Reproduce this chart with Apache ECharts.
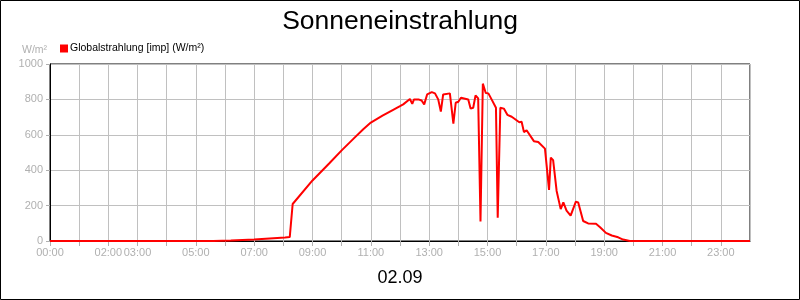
<!DOCTYPE html>
<html>
<head>
<meta charset="utf-8">
<script src="https://cdn.jsdelivr.net/npm/echarts@6/dist/echarts.min.js"></script>
<style>html,body{margin:0;padding:0;background:#fff}#c{width:800px;height:300px}</style>
</head>
<body>
<div id="c"></div>
<script>
// Time of day (hours) and Globalstrahlung values (W/m²)
const hours = [0, 5.6, 6.2, 7.0, 8.06, 8.22, 8.32, 9.0, 9.57, 10.0, 10.4, 10.74, 11.0, 11.4, 11.75, 12.0, 12.11, 12.34, 12.42, 12.48, 12.63, 12.74, 12.83, 12.93, 13.09, 13.2, 13.31, 13.4, 13.48, 13.71, 13.77, 13.83, 13.91, 14.0, 14.09, 14.34, 14.42, 14.51, 14.59, 14.68, 14.76, 14.84, 14.94, 15.03, 15.14, 15.29, 15.35, 15.44, 15.56, 15.68, 15.83, 16.09, 16.17, 16.25, 16.34, 16.59, 16.74, 16.97, 17.11, 17.17, 17.25, 17.37, 17.51, 17.6, 17.71, 17.85, 18.03, 18.11, 18.28, 18.45, 18.72, 18.86, 19.06, 19.26, 19.48, 19.65, 19.88, 24];
const values = [0, 0, 3, 9, 20, 22, 209, 342, 438, 512, 577, 631, 669, 708, 740, 762, 772, 802, 775, 800, 800, 794, 772, 828, 841, 834, 800, 731, 828, 834, 837, 663, 781, 787, 809, 800, 748, 753, 823, 806, 110, 889, 836, 834, 800, 753, 132, 753, 748, 713, 702, 671, 674, 615, 626, 564, 559, 522, 289, 471, 457, 283, 180, 218, 171, 143, 222, 218, 113, 99, 97, 78, 46, 31, 21, 8, 0, 0];
const xTickHours = [0, 2, 3, 5, 7, 9, 11, 13, 15, 17, 19, 21, 23];
const xTickLabels = ['00:00', '02:00', '03:00', '05:00', '07:00', '09:00', '11:00', '13:00', '15:00', '17:00', '19:00', '21:00', '23:00'];
const yTicks = [0, 200, 400, 600, 800, 1000];
const seriesName = 'Globalstrahlung [imp] (W/m²)';
const titleText = 'Sonneneinstrahlung';
const dateText = '02.09';
const unitText = 'W/m²';

const chart = echarts.init(document.getElementById('c'), null, {renderer: 'canvas'});
const font = 'Liberation Sans, Arial, sans-serif';
chart.setOption({
  animation: false,
  backgroundColor: '#fff',
  title: [
    {text: titleText, left: 'center', top: 3, textStyle: {fontFamily: font, fontSize: 26.5, fontWeight: 'normal', color: '#000'}},
    {text: dateText, left: 'center', top: 264, textStyle: {fontFamily: font, fontSize: 18, fontWeight: 'normal', color: '#000'}},
    {text: unitText, left: 17, top: 40, textStyle: {fontFamily: font, fontSize: 10.5, fontWeight: 'normal', color: '#b0b0b0'}}
  ],
  legend: {
    left: 55, top: 38, itemWidth: 8, itemHeight: 8, itemGap: 4,
    icon: 'rect',
    textStyle: {fontFamily: font, fontSize: 10.5, color: '#000', padding: [0,0,0,-3]},
    data: [seriesName]
  },
  graphic: [{type: 'rect', shape: {x: 0.5, y: 0.5, width: 799, height: 299}, style: {fill: 'none', stroke: '#000', lineWidth: 1}, silent: true}],
  grid: {left: 50, right: 50, top: 64, bottom: 59, show: true, borderColor: '#000', borderWidth: 1, backgroundColor: 'transparent'},
  xAxis: {
    type: 'value', min: 0, max: 24, interval: 1,
    axisLine: {show: true, lineStyle: {color: '#000', width: 1}},
    axisTick: {show: true, length: 5, lineStyle: {color: '#b0b0b0'}},
    axisLabel: {
      fontFamily: font, fontSize: 11, color: '#b0b0b0', margin: 6,
      showMaxLabel: false,
      formatter: v => { const i = xTickHours.indexOf(v); return i >= 0 ? xTickLabels[i] : ''; }
    },
    splitLine: {show: true, lineStyle: {color: '#c0c0c0', width: 1}}
  },
  yAxis: {
    type: 'value', min: 0, max: 1000, interval: 200,
    axisLine: {show: true, lineStyle: {color: '#000', width: 1}},
    axisTick: {show: true, length: 4, lineStyle: {color: '#b0b0b0'}},
    axisLabel: {fontFamily: font, fontSize: 11, color: '#b0b0b0', margin: 7,
      formatter: v => yTicks.indexOf(v) >= 0 ? String(v) : ''},
    splitLine: {show: true, lineStyle: {color: '#c0c0c0', width: 1}}
  },
  series: [{
    name: seriesName, type: 'line', showSymbol: false, symbol: 'none',
    color: '#ff0000',
    lineStyle: {color: '#ff0000', width: 2},
    data: hours.map((h, i) => [h, values[i]])
  }]
});
</script>
</body>
</html>
